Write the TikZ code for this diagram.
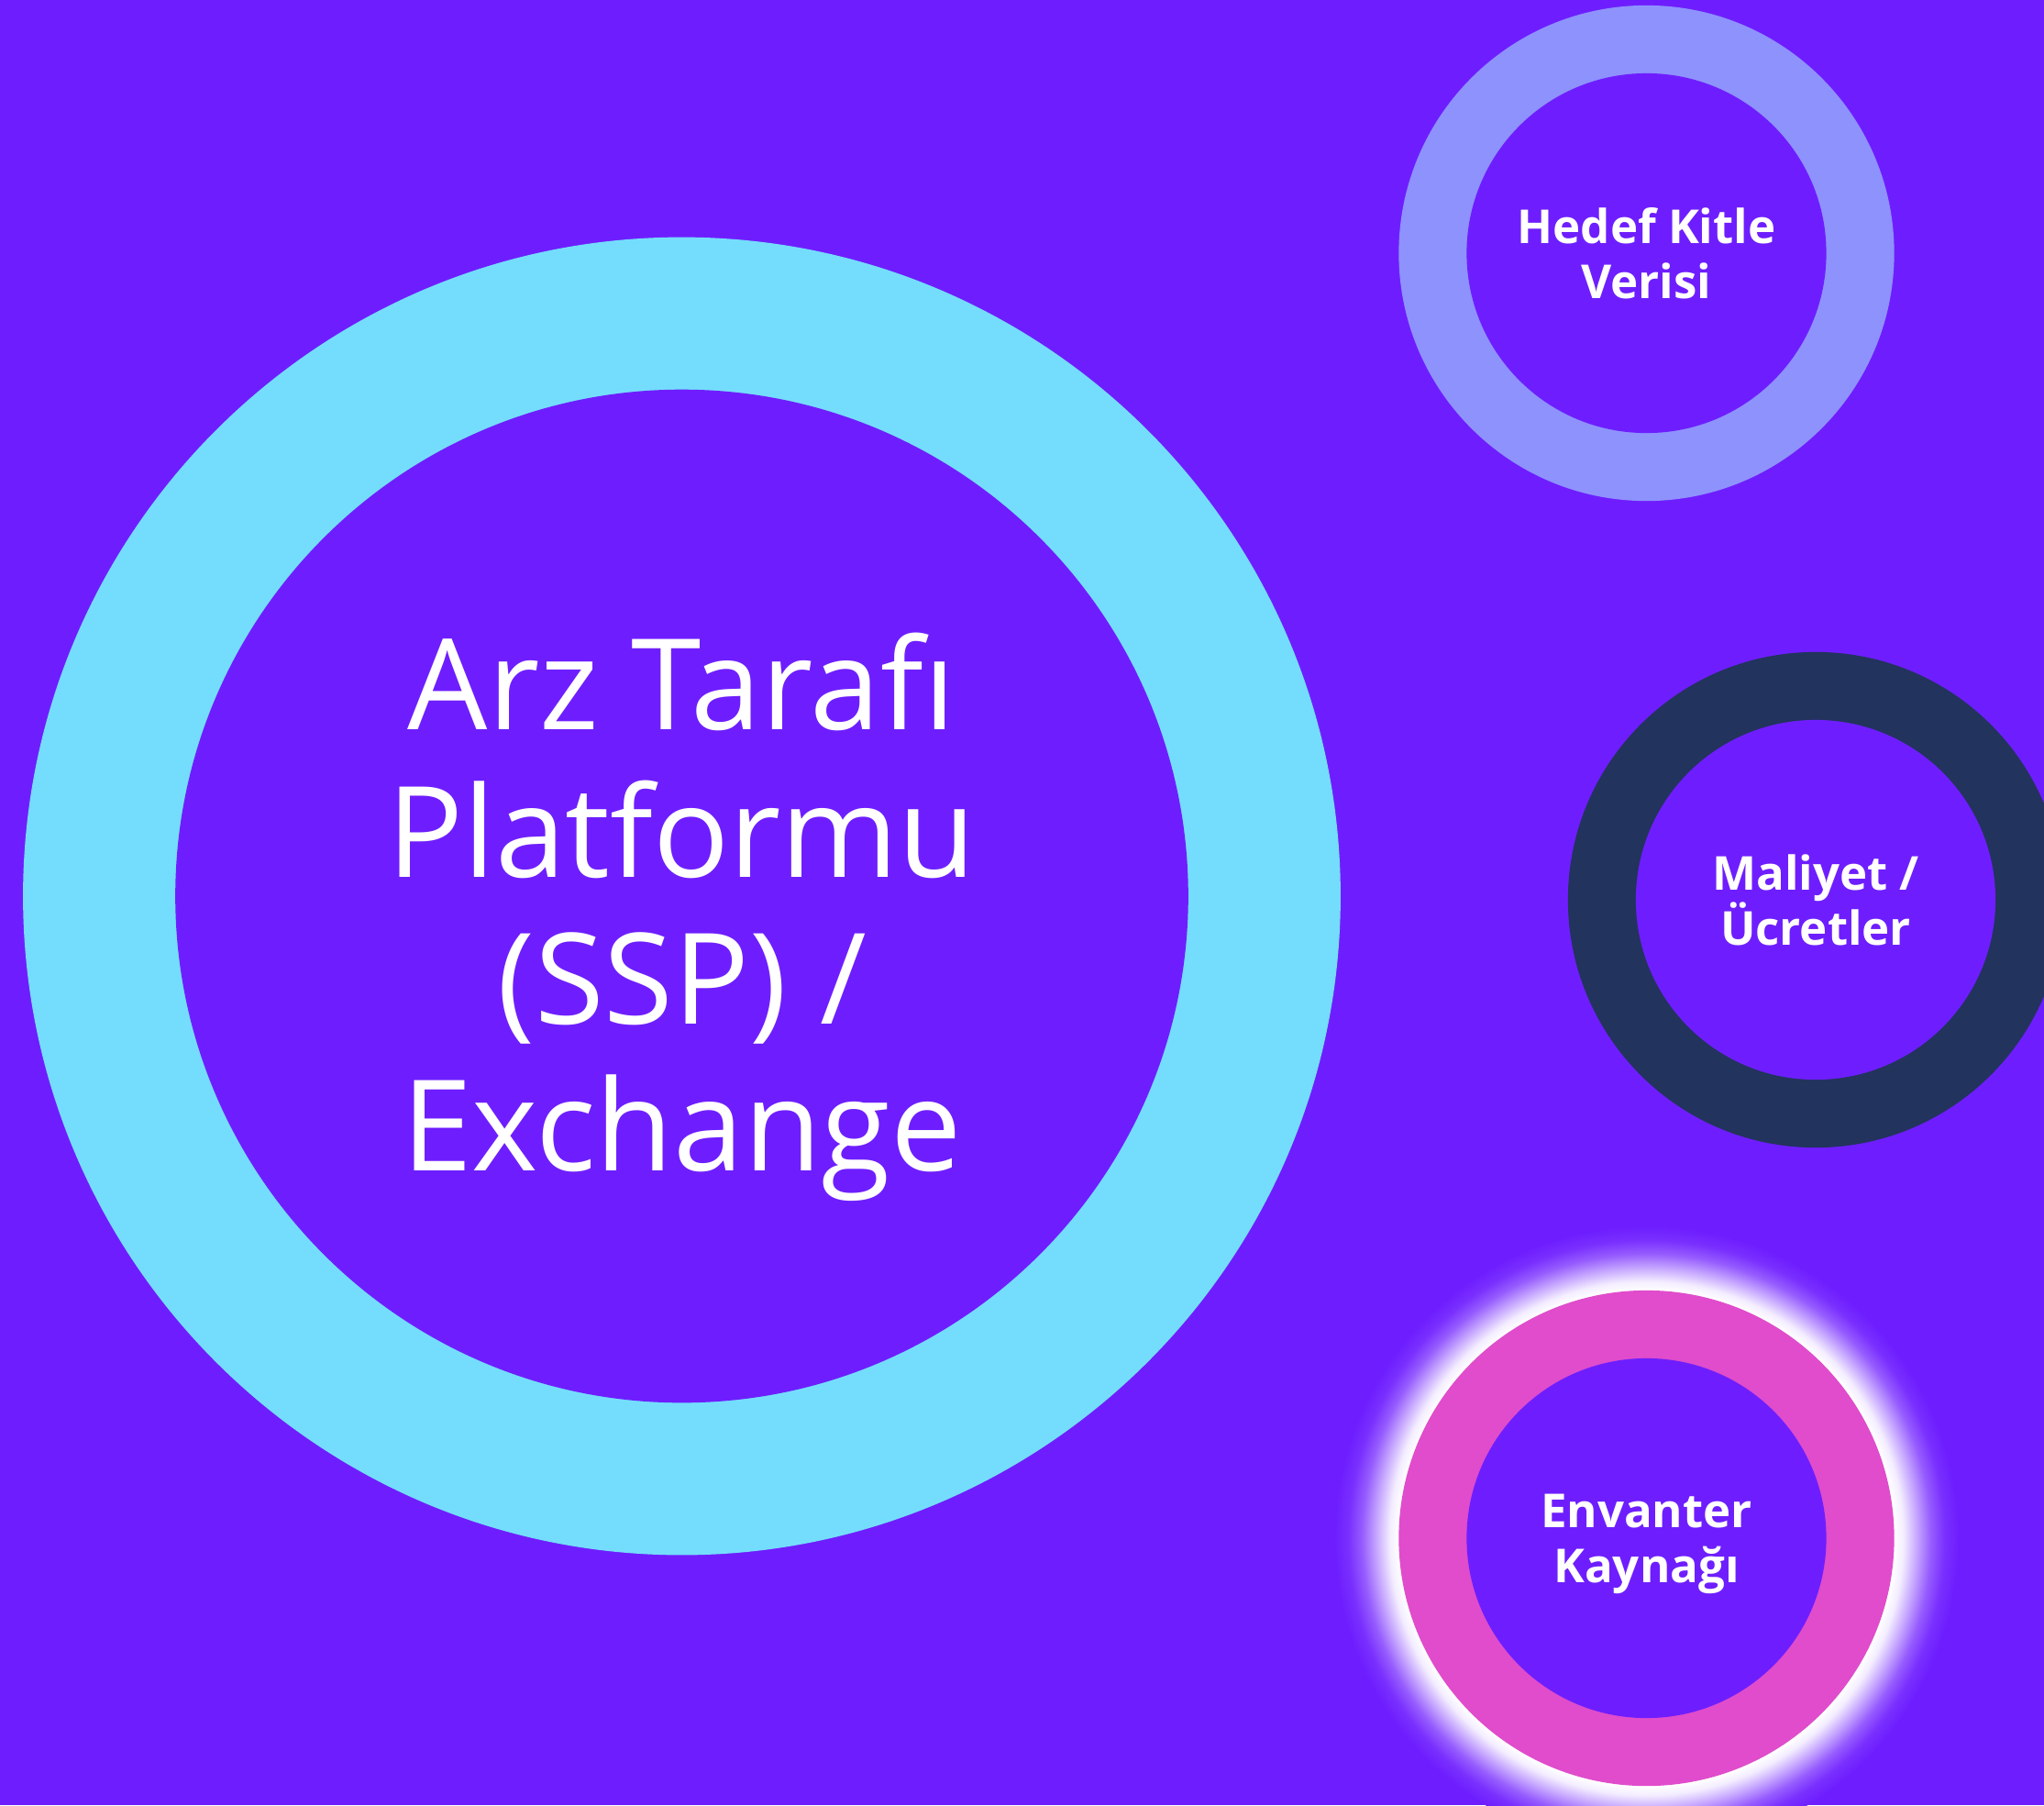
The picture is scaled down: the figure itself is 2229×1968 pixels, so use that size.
\documentclass[tikz,border=0pt]{standalone}
\usepackage{fontspec}
\setmainfont{Open Sans}
\definecolor{bg}{HTML}{6E1EFE}
\definecolor{cyanring}{HTML}{74DDFD}
\definecolor{lavring}{HTML}{8E92FD}
\definecolor{navyring}{HTML}{22335E}
\definecolor{pinkring}{HTML}{E04CCB}
\pgfdeclareradialshading{glow}{\pgfpoint{0bp}{0bp}}{color(0bp)=(white); color(19.85bp)=(white); color(20.6bp)=(white!92!bg); color(21.7bp)=(white!60!bg); color(22.8bp)=(white!28!bg); color(23.9bp)=(white!8!bg); color(25bp)=(bg); color(50bp)=(bg)}
\setlength{\lineskiplimit}{-100pt}
\begin{document}
\begin{tikzpicture}[x=0.01cm,y=-0.01cm,
  ring/.style={circle, inner sep=0pt, draw=none},
  bigtext/.style={text=white, align=center, inner sep=0pt,
    font=\fontsize{39.2pt}{45.6pt}\selectfont},
  smalltext/.style={text=white, align=center, inner sep=0pt,
    font=\bfseries\fontsize{14.5pt}{17.07pt}\selectfont}]
\clip (0,0) rectangle (2229,1968);
\fill[bg] (0,0) rectangle (2229,1968);
% big circle
\node[ring, fill=cyanring, minimum size=14.36cm] (ssp-outer) at (743.5,977) {};
\node[ring, fill=bg, minimum size=11.04cm] (ssp-inner) at (ssp-outer.center) {};
\node[bigtext] (ssp-text) at ([yshift=-0.23cm]ssp-inner.center) {Arz Tarafı\\Platformu\\(SSP) /\\Exchange};
% top right
\node[ring, fill=lavring, minimum size=5.40cm] (aud-outer) at (1795.5,276) {};
\node[ring, fill=bg, minimum size=3.92cm] (aud-inner) at (aud-outer.center) {};
\node[smalltext] (aud-text) at (aud-inner.center) {Hedef Kitle\\Verisi};
% middle right
\node[ring, fill=navyring, minimum size=5.40cm] (cost-outer) at (1980,981) {};
\node[ring, fill=bg, minimum size=3.92cm] (cost-inner) at (cost-outer.center) {};
\node[smalltext] (cost-text) at (cost-inner.center) {Maliyet /\\Ücretler};
% bottom with glow
\coordinate (inv-c) at (1795.5,1677);
\shade[shading=glow] (inv-c) circle [radius=340];
\node[ring, fill=pinkring, minimum size=5.40cm] (inv-outer) at (inv-c) {};
\node[ring, fill=bg, minimum size=3.92cm] (inv-inner) at (inv-outer.center) {};
\node[smalltext] (inv-text) at ([yshift=-0.06cm]inv-inner.center) {Envanter\\Kaynağı};
\end{tikzpicture}
\end{document}
